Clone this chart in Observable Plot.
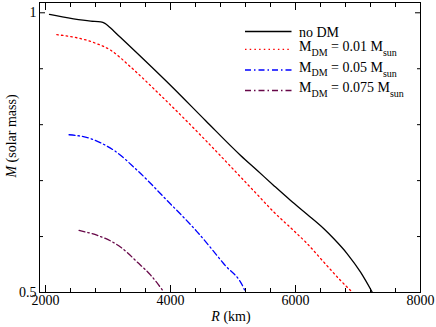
<!DOCTYPE html>
<html><head><meta charset="utf-8">
<script src="https://cdn.jsdelivr.net/npm/d3@7"></script>
<script src="https://cdn.jsdelivr.net/npm/@observablehq/plot@0.6"></script>
<style>body{margin:0;background:#fff}</style>
</head><body><div id="chart"></div>
<script>
// Radius (km) and mass (solar mass)
const radiusNoDM = [2064, 2724, 2884, 2950, 3000, 3050, 3124, 3257, 4003, 4563, 5122, 5389, 5655, 5922, 6189, 6454, 6614, 6828, 7041, 7228];
const massNoDM   = [0.997, 0.985, 0.9836, 0.981, 0.977, 0.972, 0.964, 0.950, 0.870, 0.807, 0.745, 0.718, 0.691, 0.6645, 0.6394, 0.6139, 0.596, 0.5692, 0.5363, 0.5005];

const radiusDM01 = [2181, 2767, 3044, 3364, 3791, 4510, 5149, 5389, 5655, 5922, 6189, 6454, 6721, 6908];
const massDM01   = [0.961, 0.947, 0.933, 0.903, 0.858, 0.778, 0.7033, 0.675, 0.6436, 0.6157, 0.5871, 0.5542, 0.5215, 0.5005];

const radiusDM05 = [2377, 2724, 2911, 3097, 3471, 3950, 4430, 4855, 5175, 5202];
const massDM05   = [0.782, 0.775, 0.766, 0.754, 0.718, 0.664, 0.608, 0.551, 0.507, 0.5];

const radiusDM075 = [2537, 2831, 3044, 3204, 3471, 3683, 3896];
const massDM075   = [0.611, 0.602, 0.592, 0.581, 0.554, 0.531, 0.5005];

const xMajorTicks = [2000, 4000, 6000, 8000];
const xMinorTicks = [2400, 2800, 3200, 3600, 4400, 4800, 5200, 5600, 6400, 6800, 7200, 7600];
const yMajorTicks = [0.5, 1];
const yMinorTicks = [0.6, 0.7, 0.8, 0.9];

const series = [
  {key: "noDM",  label: null,    R: radiusNoDM,  M: massNoDM,  color: "#000000", dash: null},
  {key: "dm01",  label: "0.01",  R: radiusDM01,  M: massDM01,  color: "#ff0000", dash: "1.5,3.2"},
  {key: "dm05",  label: "0.05",  R: radiusDM05,  M: massDM05,  color: "#0000ff", dash: "6,3,1.5,3"},
  {key: "dm075", label: "0.075", R: radiusDM075, M: massDM075, color: "#670748", dash: "6,3,1.5,3"}
];
const rows = series.flatMap(s => s.R.map((r, i) => ({key: s.key, R: r, M: s.M[i]})));

const font = "Liberation Serif, Times New Roman, serif";
const plot = Plot.plot({
  width: 436, height: 327,
  marginLeft: 39, marginRight: 16, marginTop: 2, marginBottom: 35,
  style: {fontFamily: font, fontSize: "14px", background: "#fff", color: "#000"},
  x: {domain: [1904, 8000]},
  y: {domain: [0.5, 1.0184]},
  marks: [
    ...series.map(s => Plot.line(rows.filter(d => d.key === s.key), {
      x: "R", y: "M", stroke: s.color, strokeWidth: 1.3,
      strokeDasharray: s.dash, curve: "monotone-x"
    })),
    Plot.frame({stroke: "#000", strokeWidth: 1}),
    Plot.axisX(xMajorTicks, {anchor: "bottom", tickSize: -7, tickFormat: () => "", label: null}),
    Plot.axisX(xMajorTicks, {anchor: "top", tickSize: -7, tickFormat: () => "", label: null}),
    Plot.axisX(xMinorTicks, {anchor: "bottom", tickSize: -4, tickFormat: () => "", label: null}),
    Plot.axisX(xMinorTicks, {anchor: "top", tickSize: -4, tickFormat: () => "", label: null}),
    Plot.axisY(yMajorTicks, {anchor: "left", tickSize: -6, tickFormat: () => "", label: null}),
    Plot.axisY(yMajorTicks, {anchor: "right", tickSize: -6, tickFormat: () => "", label: null}),
    Plot.axisY(yMinorTicks, {anchor: "left", tickSize: -4, tickFormat: () => "", label: null}),
    Plot.axisY(yMinorTicks, {anchor: "right", tickSize: -4, tickFormat: () => "", label: null}),
    Plot.axisX(xMajorTicks, {anchor: "bottom", tickSize: 0, tickPadding: 3, fontSize: 14, label: null, tickFormat: d => String(d)}),
    Plot.axisY(yMajorTicks, {anchor: "left", tickSize: 0, tickPadding: 3, fontSize: 14, label: null, tickFormat: d => String(d)})
  ]
});
document.getElementById("chart").appendChild(plot);

const svg = d3.select(plot);
// axis titles
const xt = svg.append("text").attr("x", 231).attr("y", 321).attr("text-anchor", "middle")
  .attr("font-family", font).attr("font-size", 14).attr("fill", "#000");
xt.append("tspan").attr("font-style", "italic").text("R");
xt.append("tspan").text(" (km)");
const yt = svg.append("text").attr("transform", "translate(16,136) rotate(-90)").attr("text-anchor", "middle")
  .attr("font-family", font).attr("font-size", 14).attr("fill", "#000");
yt.append("tspan").attr("font-style", "italic").text("M");
yt.append("tspan").text(" (solar mass)");

// legend
const lineY = [31.5, 49.3, 70, 90.5];
const textY = [36.5, 51, 71.5, 92];
series.forEach((s, i) => {
  svg.append("line").attr("x1", 245).attr("x2", 291.5).attr("y1", lineY[i]).attr("y2", lineY[i])
    .attr("stroke", s.color).attr("stroke-width", 1.3).attr("stroke-dasharray", s.dash);
  const t = svg.append("text").attr("x", 299).attr("y", textY[i]).attr("text-anchor", "start")
    .attr("font-family", font).attr("font-size", 14).attr("fill", "#000");
  if (s.label === null) {
    t.text("no DM");
  } else {
    t.append("tspan").text("M");
    t.append("tspan").attr("font-size", 10).attr("dy", 4.5).text("DM");
    t.append("tspan").attr("dy", -4.5).text(" = " + s.label + " M");
    t.append("tspan").attr("font-size", 10).attr("dy", 5).text("sun");
  }
});
</script>
</body></html>
